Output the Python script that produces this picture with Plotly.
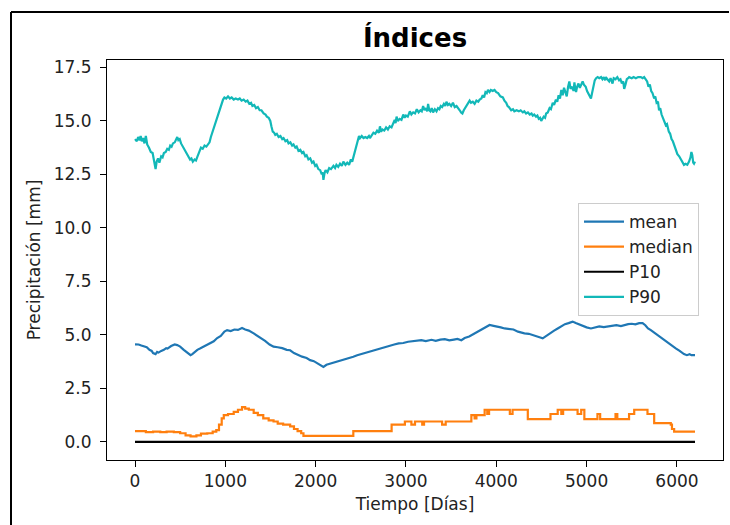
import plotly.graph_objects as go

# ---------------- data ----------------
p90_pts = [
    (0, 14.15), (20, 14.05), (35, 14.25), (50, 14.1), (63, 14.3), (75, 14.05), (90, 14.2), (105, 13.95), (120, 14.3), (135, 13.9),
    (155, 13.75), (175, 13.55), (195, 13.5), (210, 13.2), (228, 12.75), (240, 13.1), (255, 13.25), (270, 13.05), (290, 13.35), (305, 13.3),
    (320, 13.5), (340, 13.55), (357, 13.7), (375, 13.65), (390, 13.85), (405, 13.8), (420, 13.95), (440, 14.0), (455, 14.15), (468, 14.25),
    (480, 14.1), (495, 14.15), (510, 13.95), (530, 13.8), (550, 13.65), (570, 13.5), (590, 13.35), (610, 13.2), (625, 13.25), (640, 13.1),
    (660, 13.2), (675, 13.15), (688, 13.3), (700, 13.45), (715, 13.55), (730, 13.75), (750, 13.7), (770, 13.85), (790, 13.8), (810, 13.95),
    (825, 14.0), (840, 14.25), (855, 14.45), (870, 14.7), (885, 14.85), (900, 15.1), (915, 15.3), (930, 15.5), (945, 15.7), (960, 15.85),
    (975, 16.0), (990, 16.1), (1010, 16.05), (1030, 16.15), (1050, 16.05), (1070, 16.1), (1093, 16.0), (1115, 16.05), (1140, 16.0), (1160, 16.05),
    (1180, 15.95), (1203, 16.0), (1225, 15.9), (1245, 15.95), (1265, 15.8), (1285, 15.85), (1300, 15.7), (1320, 15.75), (1340, 15.6), (1360, 15.65),
    (1380, 15.5), (1400, 15.5), (1424, 15.35), (1445, 15.3), (1460, 15.2), (1480, 15.15), (1498, 15.0), (1510, 14.75), (1525, 14.5), (1540, 14.45),
    (1553, 14.35), (1570, 14.4), (1590, 14.25), (1610, 14.3), (1630, 14.15), (1645, 14.2), (1665, 14.05), (1685, 14.1), (1700, 13.95), (1720, 14.0),
    (1740, 13.85), (1755, 13.9), (1775, 13.75), (1790, 13.8), (1810, 13.6), (1830, 13.65), (1850, 13.5), (1865, 13.55), (1885, 13.35), (1900, 13.4),
    (1920, 13.2), (1940, 13.25), (1960, 13.05), (1976, 13.1), (1995, 12.9), (2010, 12.95), (2030, 12.75), (2050, 12.7), (2068, 12.5), (2078, 12.6),
    (2086, 12.25), (2098, 12.55), (2110, 12.7), (2130, 12.6), (2150, 12.8), (2170, 12.75), (2197, 12.9), (2215, 12.8), (2230, 12.95), (2250, 12.85),
    (2270, 13.0), (2290, 12.9), (2307, 13.1), (2330, 12.95), (2350, 13.05), (2370, 12.95), (2390, 13.2), (2405, 13.1), (2417, 13.3), (2435, 13.5),
    (2450, 13.8), (2465, 14.1), (2480, 14.3), (2491, 14.2), (2510, 14.3), (2530, 14.2), (2550, 14.25), (2570, 14.2), (2590, 14.3), (2601, 14.2),
    (2620, 14.35), (2640, 14.45), (2660, 14.4), (2680, 14.55), (2700, 14.45), (2712, 14.75), (2725, 14.5), (2740, 14.6), (2760, 14.55), (2780, 14.7),
    (2800, 14.6), (2820, 14.75), (2840, 14.7), (2859, 14.85), (2875, 15.05), (2885, 14.9), (2896, 15.2), (2910, 15.0), (2930, 15.1), (2950, 15.05),
    (2970, 15.3), (2985, 15.15), (3000, 15.25), (3020, 15.2), (3043, 15.45), (3060, 15.3), (3080, 15.4), (3100, 15.35), (3120, 15.55), (3140, 15.4),
    (3160, 15.5), (3175, 15.45), (3190, 15.7), (3205, 15.5), (3220, 15.6), (3235, 15.45), (3245, 15.8), (3258, 15.5), (3270, 15.45), (3285, 15.6),
    (3300, 15.4), (3320, 15.55), (3338, 15.45), (3355, 15.6), (3370, 15.55), (3385, 15.7), (3400, 15.65), (3420, 15.8), (3435, 15.7), (3448, 15.9),
    (3465, 15.75), (3480, 15.8), (3500, 15.7), (3520, 15.85), (3540, 15.65), (3560, 15.7), (3580, 15.55), (3595, 15.5), (3610, 15.4), (3625, 15.35),
    (3640, 15.5), (3660, 15.65), (3680, 15.8), (3705, 15.95), (3720, 15.85), (3740, 15.9), (3760, 15.8), (3780, 15.95), (3800, 15.9), (3816, 16.0),
    (3835, 16.05), (3850, 16.2), (3865, 16.1), (3880, 16.35), (3895, 16.3), (3908, 16.45), (3925, 16.35), (3940, 16.45), (3960, 16.4), (3981, 16.45),
    (4000, 16.35), (4020, 16.3), (4045, 16.15), (4073, 16.1), (4090, 15.95), (4110, 15.85), (4125, 15.7), (4140, 15.65), (4165, 15.5), (4185, 15.55),
    (4200, 15.45), (4225, 15.5), (4250, 15.45), (4270, 15.5), (4294, 15.4), (4310, 15.45), (4330, 15.35), (4350, 15.4), (4370, 15.3), (4390, 15.35),
    (4404, 15.25), (4420, 15.3), (4440, 15.2), (4455, 15.25), (4470, 15.1), (4485, 15.15), (4497, 15.0), (4510, 15.1), (4525, 15.2), (4540, 15.15),
    (4552, 15.35), (4570, 15.4), (4590, 15.6), (4605, 15.55), (4625, 15.85), (4640, 15.75), (4660, 16.0), (4675, 15.9), (4690, 16.2), (4705, 16.05),
    (4720, 16.45), (4735, 16.2), (4750, 16.55), (4765, 16.35), (4780, 16.15), (4795, 16.6), (4809, 16.85), (4822, 16.5), (4840, 16.6), (4855, 16.4),
    (4865, 16.8), (4875, 16.5), (4883, 16.35), (4895, 16.6), (4910, 16.75), (4925, 16.55), (4940, 16.7), (4956, 16.85), (4970, 16.7), (4990, 16.6),
    (5005, 16.4), (5020, 16.3), (5035, 16.2), (5048, 16.05), (5060, 16.3), (5075, 16.6), (5090, 16.9), (5105, 17.0), (5122, 17.05), (5140, 17.0),
    (5160, 17.05), (5175, 16.95), (5190, 17.05), (5205, 16.9), (5214, 17.05), (5230, 16.95), (5250, 16.85), (5265, 17.0), (5287, 16.75), (5300, 17.0),
    (5320, 16.95), (5340, 17.05), (5360, 16.9), (5375, 16.95), (5390, 16.75), (5405, 16.85), (5416, 16.5), (5430, 16.7), (5445, 16.95), (5460, 17.0),
    (5471, 17.05), (5500, 17.0), (5520, 17.05), (5545, 17.0), (5570, 17.05), (5600, 17.05), (5620, 17.0), (5637, 17.05), (5655, 16.95), (5670, 16.85),
    (5685, 16.6), (5700, 16.7), (5715, 16.4), (5730, 16.3), (5748, 16.05), (5760, 16.15), (5775, 15.85), (5790, 15.9), (5802, 15.5), (5815, 15.6),
    (5830, 15.3), (5850, 15.1), (5865, 15.0), (5877, 14.8), (5890, 14.85), (5910, 14.5), (5925, 14.4), (5940, 14.15), (5955, 14.05), (5970, 13.85),
    (5985, 13.75), (6005, 13.45), (6025, 13.35), (6045, 13.2), (6060, 13.1), (6078, 12.95), (6095, 13.0), (6115, 12.95), (6134, 13.1), (6150, 13.3),
    (6160, 13.55), (6170, 13.4), (6180, 13.05), (6189, 13.0), (6200, 13.1),
]
p90_x = [p[0] for p in p90_pts]
p90_y = [p[1] for p in p90_pts]

mean_pts = [
    (0, 4.56), (40, 4.55), (70, 4.5), (99, 4.45), (130, 4.42), (160, 4.3), (185, 4.25), (200, 4.15), (228, 4.1), (245, 4.2),
    (260, 4.17), (290, 4.25), (320, 4.3), (345, 4.38), (360, 4.36), (400, 4.48), (440, 4.55), (468, 4.52), (500, 4.45), (540, 4.3),
    (580, 4.15), (615, 4.05), (635, 4.1), (650, 4.15), (690, 4.3), (725, 4.37), (760, 4.45), (800, 4.55), (840, 4.62), (872, 4.7),
    (910, 4.85), (950, 4.95), (990, 5.15), (1020, 5.22), (1060, 5.18), (1100, 5.25), (1140, 5.23), (1185, 5.32), (1220, 5.25), (1260, 5.2),
    (1314, 5.07), (1360, 4.95), (1400, 4.85), (1440, 4.72), (1490, 4.55), (1534, 4.45), (1580, 4.42), (1630, 4.38), (1680, 4.3), (1718, 4.28),
    (1760, 4.15), (1800, 4.07), (1850, 3.98), (1900, 3.92), (1939, 3.82), (1980, 3.77), (2030, 3.65), (2060, 3.6), (2086, 3.5), (2120, 3.6),
    (2160, 3.65), (2200, 3.7), (2234, 3.75), (2280, 3.78), (2330, 3.85), (2380, 3.9), (2417, 3.98), (2460, 4.05), (2500, 4.1), (2546, 4.14),
    (2600, 4.22), (2650, 4.3), (2700, 4.36), (2767, 4.45), (2820, 4.5), (2870, 4.55), (2920, 4.6), (2970, 4.62), (3024, 4.68), (3070, 4.7),
    (3120, 4.72), (3170, 4.75), (3220, 4.71), (3282, 4.77), (3330, 4.72), (3380, 4.78), (3430, 4.8), (3480, 4.74), (3530, 4.78), (3570, 4.81),
    (3613, 4.75), (3650, 4.85), (3700, 4.92), (3760, 5.07), (3800, 5.15), (3850, 5.3), (3890, 5.4), (3926, 5.46), (3970, 5.42), (4010, 5.4),
    (4050, 5.35), (4092, 5.3), (4140, 5.28), (4190, 5.25), (4240, 5.15), (4280, 5.1), (4312, 5.07), (4360, 5.05), (4420, 4.95), (4470, 4.9),
    (4514, 4.84), (4550, 4.95), (4600, 5.1), (4640, 5.2), (4680, 5.3), (4720, 5.4), (4760, 5.5), (4800, 5.55), (4845, 5.62), (4880, 5.55),
    (4920, 5.48), (4960, 5.4), (5000, 5.35), (5048, 5.3), (5090, 5.35), (5140, 5.4), (5190, 5.36), (5232, 5.39), (5280, 5.42), (5330, 5.45),
    (5380, 5.41), (5416, 5.46), (5460, 5.5), (5500, 5.52), (5540, 5.49), (5582, 5.55), (5620, 5.55), (5650, 5.45), (5680, 5.3), (5711, 5.22),
    (5750, 5.1), (5800, 4.95), (5858, 4.76), (5900, 4.6), (5940, 4.5), (5987, 4.37), (6030, 4.25), (6078, 4.1), (6110, 4.05), (6140, 4.1),
    (6160, 4.05), (6189, 4.06), (6200, 4.05),
]
mean_x = [p[0] for p in mean_pts]
mean_y = [p[1] for p in mean_pts]

median_x = [0, 120, 200, 280, 350, 430, 500, 560, 615, 680, 730, 800, 860, 900, 930, 960, 983, 1030, 1093, 1140,
            1185, 1220, 1260, 1314, 1360, 1420, 1480, 1534, 1580, 1640, 1718, 1760, 1800, 1840, 1865, 2381, 2417, 2822, 2841, 2988,
            3050, 3060, 3100, 3180, 3200, 3380, 3400, 3440, 3724, 3760, 3780, 3871, 3900, 3920, 4140, 4150, 4180, 4349, 4600, 4680,
            4720, 4740, 4900, 4940, 4975, 5120, 5150, 5320, 5340, 5470, 5527, 5674, 5748, 5932, 5945, 5969, 6200]
median_y = [0.5, 0.45, 0.48, 0.45, 0.48, 0.45, 0.4, 0.3, 0.25, 0.3, 0.38, 0.4, 0.48, 0.55, 0.8, 1.1, 1.25, 1.3, 1.4, 1.5,
            1.62, 1.55, 1.5, 1.35, 1.25, 1.1, 1.0, 0.95, 0.85, 0.8, 0.72, 0.6, 0.5, 0.4, 0.28, 0.28, 0.5, 0.5, 0.8, 0.95,
            0.95, 0.8, 0.95, 0.8, 0.95, 0.95, 0.8, 0.95, 1.25, 1.1, 1.25, 1.5, 1.3, 1.5, 1.5, 1.3, 1.5, 1.06, 1.3, 1.5,
            1.3, 1.5, 1.3, 1.5, 1.06, 1.3, 1.06, 1.3, 1.06, 1.3, 1.5, 1.3, 0.87, 0.8, 0.6, 0.48, 0.48]

p10_x = [0, 6200]
p10_y = [0.0, 0.0]

x_ticks = [0, 1000, 2000, 3000, 4000, 5000, 6000]
y_ticks = [0.0, 2.5, 5.0, 7.5, 10.0, 12.5, 15.0, 17.5]

# ---------------- figure ----------------
FONT = "DejaVu Sans"
TXT = "#222222"
fig = go.Figure()
fig.add_trace(go.Scatter(x=mean_x, y=mean_y, mode="lines", name="mean",
                         line=dict(color="#1f77b4", width=2.2)))
fig.add_trace(go.Scatter(x=median_x, y=median_y, mode="lines", name="median",
                         line=dict(color="#ff7f0e", width=2.2, shape="hv")))
fig.add_trace(go.Scatter(x=p10_x, y=p10_y, mode="lines", name="P10",
                         line=dict(color="#000000", width=2.2)))
fig.add_trace(go.Scatter(x=p90_x, y=p90_y, mode="lines", name="P90",
                         line=dict(color="#12b8b8", width=2.2)))

L, R, T, B = 107, 7, 60, 65
W, H = 730, 525
pw, ph = W - L - R, H - T - B

axis_common = dict(showline=True, linecolor="black", linewidth=1, mirror=True,
                   ticks="outside", ticklen=6, tickwidth=1, tickcolor="black",
                   showgrid=False, zeroline=False,
                   tickfont=dict(family=FONT, size=17, color=TXT))

fig.update_layout(
    width=W, height=H,
    margin=dict(l=L, r=R, t=T, b=B, autoexpand=False),
    paper_bgcolor="white", plot_bgcolor="white",
    font=dict(family=FONT, size=17, color=TXT),
    title=dict(text="<b>Índices</b>", x=0.5, xref="paper", xanchor="center",
               y=1 - 38 / H, yref="container", yanchor="middle",
               font=dict(family=FONT, size=26, color="black")),
    xaxis=dict(range=[-310, 6510], tickvals=x_ticks, ticktext=[str(v) for v in x_ticks],
               title=dict(text="Tiempo [Días]", standoff=7, font=dict(family=FONT, size=17, color=TXT)),
               **axis_common),
    yaxis=dict(range=[-0.85, 17.85], tickvals=y_ticks, ticktext=[f"{v:.1f}" for v in y_ticks],
               ticklabelstandoff=5,
               title=dict(text="Precipitación [mm]", standoff=8, font=dict(family=FONT, size=17, color=TXT)),
               **axis_common),
    legend=dict(x=(578 - L) / pw, y=(H - B - 203) / ph, xanchor="left", yanchor="top",
                bgcolor="white", bordercolor="#cccccc", borderwidth=1, itemwidth=40,
                font=dict(family=FONT, size=17, color=TXT)),
    showlegend=True,
)

# outer frame (only left and top edges are visible in the reference)
fx = (11 - L) / pw
fy = (H - B - 12) / ph
fig.add_shape(type="line", xref="paper", yref="paper", x0=fx, x1=(W - 1 - L) / pw, y0=fy, y1=fy,
              line=dict(color="black", width=2))
fig.add_shape(type="line", xref="paper", yref="paper", x0=fx, x1=fx, y0=fy, y1=(H - B - H) / ph,
              line=dict(color="black", width=2))

fig.write_html("out.html", config={"displayModeBar": False})
